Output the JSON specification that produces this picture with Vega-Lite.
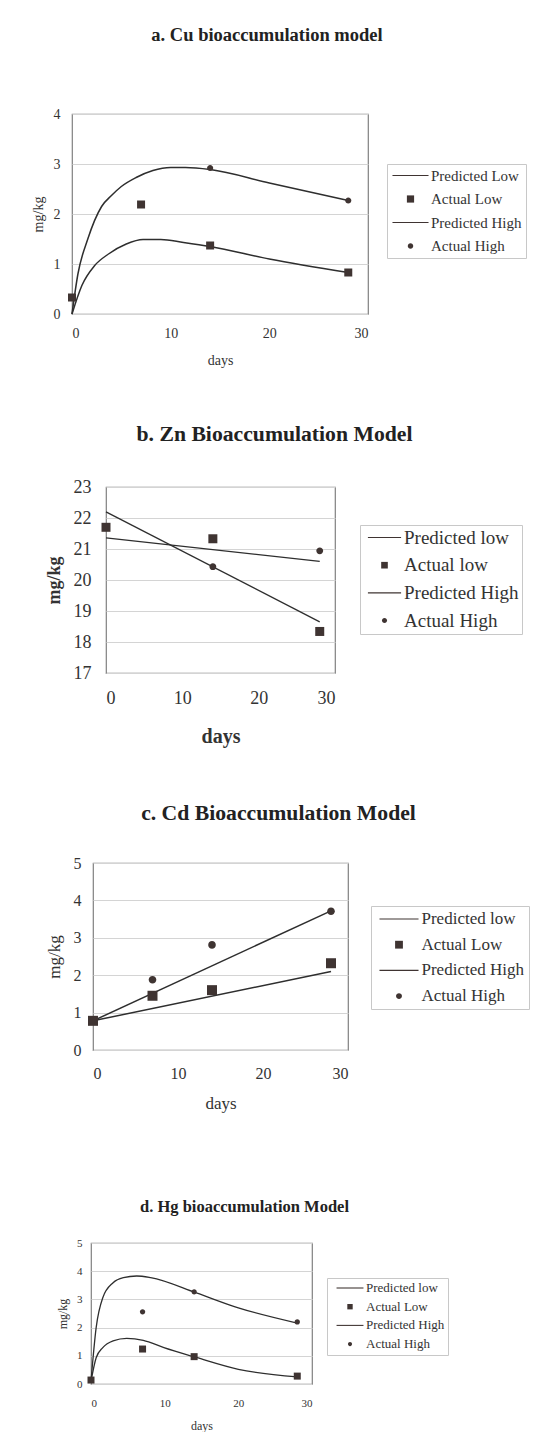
{
  "$schema": "https://vega.github.io/schema/vega-lite/v6.json",
  "background": "white",
  "padding": {"left": 0, "top": 24, "right": 0, "bottom": 0},
  "spacing": 0,
  "resolve": {"scale": {"shape": "independent"}, "legend": {"shape": "independent"}},
  "config": {
    "font": "Liberation Serif",
    "view": {"stroke": "#808080", "strokeWidth": 1.2},
    "axis": {"domain": false, "ticks": false, "tickSize": 0, "labelColor": "#333333", "titleColor": "#333333", "labelFont": "Liberation Serif", "titleFont": "Liberation Serif", "titleFontWeight": "normal", "gridColor": "#d4d4d4", "gridWidth": 1},
    "axisX": {"grid": false},
    "axisY": {"grid": true},
    "legend": {"labelFont": "Liberation Serif", "labelColor": "#333333", "strokeColor": "#c8c8c8", "fillColor": "white", "symbolStrokeWidth": 0, "symbolFillColor": "#3a3a3a"},
    "title": {"font": "Liberation Serif", "fontWeight": "bold", "color": "#222222", "anchor": "middle", "frame": "group"}
  },
  "datasets": {
    "cu_pred": [
      {"day": 0, "value": 0, "series": "Predicted High"},
      {"day": 0.6, "value": 0.8, "series": "Predicted High"},
      {"day": 1.6, "value": 1.5, "series": "Predicted High"},
      {"day": 3, "value": 2.15, "series": "Predicted High"},
      {"day": 4, "value": 2.37, "series": "Predicted High"},
      {"day": 5, "value": 2.55, "series": "Predicted High"},
      {"day": 6.5, "value": 2.73, "series": "Predicted High"},
      {"day": 8.2, "value": 2.87, "series": "Predicted High"},
      {"day": 10, "value": 2.93, "series": "Predicted High"},
      {"day": 11.5, "value": 2.93, "series": "Predicted High"},
      {"day": 14, "value": 2.89, "series": "Predicted High"},
      {"day": 20, "value": 2.62, "series": "Predicted High"},
      {"day": 28, "value": 2.27, "series": "Predicted High"},
      {"day": 0, "value": 0, "series": "Predicted Low"},
      {"day": 1, "value": 0.57, "series": "Predicted Low"},
      {"day": 2.3, "value": 0.97, "series": "Predicted Low"},
      {"day": 3.7, "value": 1.2, "series": "Predicted Low"},
      {"day": 5.5, "value": 1.4, "series": "Predicted Low"},
      {"day": 7.2, "value": 1.49, "series": "Predicted Low"},
      {"day": 9, "value": 1.49, "series": "Predicted Low"},
      {"day": 11.3, "value": 1.43, "series": "Predicted Low"},
      {"day": 14, "value": 1.35, "series": "Predicted Low"},
      {"day": 20, "value": 1.1, "series": "Predicted Low"},
      {"day": 28, "value": 0.83, "series": "Predicted Low"}
    ],
    "cu_pts": [
      {"day": 0, "value": 0.33, "series": "Actual Low"},
      {"day": 7, "value": 2.19, "series": "Actual Low"},
      {"day": 14, "value": 1.37, "series": "Actual Low"},
      {"day": 28, "value": 0.83, "series": "Actual Low"},
      {"day": 14, "value": 2.92, "series": "Actual High"},
      {"day": 28, "value": 2.27, "series": "Actual High"}
    ],
    "zn_pred": [
      {"day": 0, "value": 22.2, "series": "Predicted low"},
      {"day": 28, "value": 18.65, "series": "Predicted low"},
      {"day": 0, "value": 21.36, "series": "Predicted High"},
      {"day": 28, "value": 20.6, "series": "Predicted High"}
    ],
    "zn_pts": [
      {"day": 0, "value": 21.7, "series": "Actual low"},
      {"day": 14, "value": 21.33, "series": "Actual low"},
      {"day": 28, "value": 18.34, "series": "Actual low"},
      {"day": 14, "value": 20.43, "series": "Actual High"},
      {"day": 28, "value": 20.94, "series": "Actual High"}
    ],
    "cd_pred": [
      {"day": 0, "value": 0.78, "series": "Predicted low"},
      {"day": 28, "value": 2.1, "series": "Predicted low"},
      {"day": 0, "value": 0.78, "series": "Predicted High"},
      {"day": 28, "value": 3.72, "series": "Predicted High"}
    ],
    "cd_pts": [
      {"day": 0, "value": 0.78, "series": "Actual Low"},
      {"day": 7, "value": 1.45, "series": "Actual Low"},
      {"day": 14, "value": 1.6, "series": "Actual Low"},
      {"day": 28, "value": 2.32, "series": "Actual Low"},
      {"day": 0, "value": 0.8, "series": "Actual High"},
      {"day": 7, "value": 1.88, "series": "Actual High"},
      {"day": 14, "value": 2.81, "series": "Actual High"},
      {"day": 28, "value": 3.71, "series": "Actual High"}
    ],
    "hg_pred": [
      {"day": 0, "value": 0.1, "series": "Predicted High"},
      {"day": 0.7, "value": 2.0, "series": "Predicted High"},
      {"day": 1.6, "value": 3.06, "series": "Predicted High"},
      {"day": 3, "value": 3.59, "series": "Predicted High"},
      {"day": 4.4, "value": 3.77, "series": "Predicted High"},
      {"day": 6.2, "value": 3.83, "series": "Predicted High"},
      {"day": 8.1, "value": 3.77, "series": "Predicted High"},
      {"day": 14.3, "value": 3.23, "series": "Predicted High"},
      {"day": 20, "value": 2.7, "series": "Predicted High"},
      {"day": 28, "value": 2.16, "series": "Predicted High"},
      {"day": 0, "value": 0.1, "series": "Predicted low"},
      {"day": 0.7, "value": 0.93, "series": "Predicted low"},
      {"day": 1.6, "value": 1.29, "series": "Predicted low"},
      {"day": 3, "value": 1.53, "series": "Predicted low"},
      {"day": 4.85, "value": 1.62, "series": "Predicted low"},
      {"day": 7.1, "value": 1.55, "series": "Predicted low"},
      {"day": 9.9, "value": 1.29, "series": "Predicted low"},
      {"day": 14.3, "value": 0.94, "series": "Predicted low"},
      {"day": 20, "value": 0.52, "series": "Predicted low"},
      {"day": 28, "value": 0.25, "series": "Predicted low"}
    ],
    "hg_pts": [
      {"day": 0, "value": 0.14, "series": "Actual Low"},
      {"day": 7, "value": 1.24, "series": "Actual Low"},
      {"day": 14, "value": 0.97, "series": "Actual Low"},
      {"day": 28, "value": 0.28, "series": "Actual Low"},
      {"day": 7, "value": 2.56, "series": "Actual High"},
      {"day": 14, "value": 3.27, "series": "Actual High"},
      {"day": 28, "value": 2.2, "series": "Actual High"}
    ]
  },
  "vconcat": [
    {
      "spacing": 0,
      "resolve": {"scale": {"shape": "independent"}, "legend": {"shape": "independent"}},
      "hconcat": [
        {"width": 30, "height": 309, "data": {"values": []}, "mark": "point", "encoding": {}, "view": {"stroke": null}},
        {
          "width": 296, "height": 200,
          "title": {"text": "a. Cu bioaccumulation model", "fontSize": 18.5, "offset": 63, "dx": 47},
          "encoding": {
            "x": {"field": "day", "type": "quantitative", "scale": {"domain": [0, 30], "nice": false},
                  "axis": {"title": "days", "values": [0, 10, 20, 30], "labelFontSize": 14, "titleFontSize": 14, "labelPadding": 12, "titlePadding": 13}},
            "y": {"field": "value", "type": "quantitative", "scale": {"domain": [0, 4], "nice": false},
                  "axis": {"title": "mg/kg", "values": [0, 1, 2, 3, 4], "labelFontSize": 14, "titleFontSize": 14, "labelPadding": 12, "titlePadding": 8, "minExtent": 19, "maxExtent": 19}}
          },
          "layer": [
            {"data": {"name": "cu_pred"}, "mark": {"type": "line", "interpolate": "monotone", "color": "#2e2e2e", "strokeWidth": 1.5},
             "encoding": {"detail": {"field": "series"}}},
            {"data": {"name": "cu_pts"}, "mark": {"type": "point", "filled": true, "opacity": 1, "color": "#3f3432", "size": 64},
             "encoding": {"shape": {"field": "series", "type": "nominal",
               "scale": {"domain": ["Predicted Low", "Actual Low", "Predicted High", "Actual High"], "range": ["M-5,-0.16H5V0.16H-5Z", "square", "M-5,-0.16H5V0.16H-5Z", "M0.76,0A0.76,0.76,0,1,1,-0.76,0A0.76,0.76,0,1,1,0.76,0Z"]},
               "legend": {"orient": "none", "legendX": 315, "legendY": 50, "title": null, "labelFontSize": 15, "padding": 4, "rowPadding": 7.5, "symbolOffset": 12, "labelOffset": 13, "symbolSize": 52,
                 "encode": {"symbols": {"update": {"size": {"value": 52}, "fill": {"value": "#3a3a3a"}, "opacity": {"value": 1}}}}}}}}
          ]
        }
      ]
    },
    {
      "spacing": 0,
      "resolve": {"scale": {"shape": "independent"}, "legend": {"shape": "independent"}},
      "hconcat": [
        {"width": 44, "height": 315, "data": {"values": []}, "mark": "point", "encoding": {}, "view": {"stroke": null}},
        {
          "width": 229, "height": 186,
          "title": {"text": "b. Zn Bioaccumulation Model", "fontSize": 21.7, "offset": 32, "dx": 54},
          "encoding": {
            "x": {"field": "day", "type": "quantitative", "scale": {"domain": [0, 30], "nice": false},
                  "axis": {"title": "days", "values": [0, 10, 20, 30], "labelFontSize": 18, "titleFontSize": 20, "titleFontWeight": "bold", "labelPadding": 16, "titlePadding": 19}},
            "y": {"field": "value", "type": "quantitative", "scale": {"domain": [17, 23], "nice": false},
                  "axis": {"title": "mg/kg", "values": [17, 18, 19, 20, 21, 22, 23], "labelFontSize": 18, "titleFontSize": 18, "titleFontWeight": "bold", "labelPadding": 15, "titlePadding": 10, "minExtent": 33, "maxExtent": 33}}
          },
          "layer": [
            {"data": {"name": "zn_pred"}, "mark": {"type": "line", "color": "#2e2e2e", "strokeWidth": 1.3},
             "encoding": {"detail": {"field": "series"}}},
            {"data": {"name": "zn_pts"}, "mark": {"type": "point", "filled": true, "opacity": 1, "color": "#3f3432", "size": 81},
             "encoding": {"shape": {"field": "series", "type": "nominal",
               "scale": {"domain": ["Predicted low", "Actual low", "Predicted High", "Actual High"], "range": ["M-5,-0.18H5V0.18H-5Z", "square", "M-5,-0.18H5V0.18H-5Z", "M0.76,0A0.76,0.76,0,1,1,-0.76,0A0.76,0.76,0,1,1,0.76,0Z"]},
               "legend": {"orient": "none", "legendX": 254, "legendY": 38, "title": null, "labelFontSize": 19, "padding": 3, "rowPadding": 7.7, "symbolOffset": 12, "labelOffset": 10, "symbolSize": 44,
                 "encode": {"symbols": {"update": {"size": {"value": 44}, "fill": {"value": "#3a3a3a"}, "opacity": {"value": 1}}}}}}}}
          ]
        }
      ]
    },
    {
      "spacing": 0,
      "resolve": {"scale": {"shape": "independent"}, "legend": {"shape": "independent"}},
      "hconcat": [
        {"width": 44, "height": 334, "data": {"values": []}, "mark": "point", "encoding": {}, "view": {"stroke": null}},
        {
          "width": 255, "height": 187,
          "title": {"text": "c. Cd Bioaccumulation Model", "fontSize": 21.7, "offset": 30, "dx": 58},
          "encoding": {
            "x": {"field": "day", "type": "quantitative", "scale": {"domain": [0, 30], "nice": false},
                  "axis": {"title": "days", "values": [0, 10, 20, 30], "labelFontSize": 16, "titleFontSize": 17, "labelPadding": 15, "titlePadding": 14}},
            "y": {"field": "value", "type": "quantitative", "scale": {"domain": [0, 5], "nice": false},
                  "axis": {"title": "mg/kg", "values": [0, 1, 2, 3, 4, 5], "labelFontSize": 16, "titleFontSize": 17, "labelPadding": 12, "titlePadding": 10, "minExtent": 20, "maxExtent": 20}}
          },
          "layer": [
            {"data": {"name": "cd_pred"}, "mark": {"type": "line", "color": "#2e2e2e", "strokeWidth": 1.5},
             "encoding": {"detail": {"field": "series"}}},
            {"data": {"name": "cd_pts"}, "mark": {"type": "point", "filled": true, "opacity": 1, "color": "#3f3432", "size": 100},
             "encoding": {"shape": {"field": "series", "type": "nominal",
               "scale": {"domain": ["Predicted low", "Actual Low", "Predicted High", "Actual High"], "range": ["M-5,-0.15H5V0.15H-5Z", "square", "M-5,-0.15H5V0.15H-5Z", "M0.76,0A0.76,0.76,0,1,1,-0.76,0A0.76,0.76,0,1,1,0.76,0Z"]},
               "legend": {"orient": "none", "legendX": 278, "legendY": 43, "title": null, "labelFontSize": 17, "padding": 4.5, "rowPadding": 7.7, "symbolOffset": 15, "labelOffset": 14, "symbolSize": 61,
                 "encode": {"symbols": {"update": {"size": {"value": 61}, "fill": {"value": "#3a3a3a"}, "opacity": {"value": 1}}}}}}}}
          ]
        }
      ]
    },
    {
      "spacing": 0,
      "resolve": {"scale": {"shape": "independent"}, "legend": {"shape": "independent"}},
      "hconcat": [
        {"width": 55, "height": 1, "data": {"values": []}, "mark": "point", "encoding": {}, "view": {"stroke": null}},
        {
          "width": 221, "height": 141,
          "title": {"text": "d. Hg bioaccumulation Model", "fontSize": 16.5, "offset": 22, "dx": 43},
          "encoding": {
            "x": {"field": "day", "type": "quantitative", "scale": {"domain": [0, 30], "nice": false},
                  "axis": {"title": "days", "values": [0, 10, 20, 30], "labelFontSize": 11, "titleFontSize": 12, "labelPadding": 13, "titlePadding": 12}},
            "y": {"field": "value", "type": "quantitative", "scale": {"domain": [0, 5], "nice": false},
                  "axis": {"title": "mg/kg", "values": [0, 1, 2, 3, 4, 5], "labelFontSize": 11, "titleFontSize": 12, "labelPadding": 9, "titlePadding": 7, "minExtent": 15, "maxExtent": 15}}
          },
          "layer": [
            {"data": {"name": "hg_pred"}, "mark": {"type": "line", "interpolate": "monotone", "color": "#2e2e2e", "strokeWidth": 1.3},
             "encoding": {"detail": {"field": "series"}}},
            {"data": {"name": "hg_pts"}, "mark": {"type": "point", "filled": true, "opacity": 1, "color": "#3f3432", "size": 49},
             "encoding": {"shape": {"field": "series", "type": "nominal",
               "scale": {"domain": ["Predicted low", "Actual Low", "Predicted High", "Actual High"], "range": ["M-5,-0.2H5V0.2H-5Z", "square", "M-5,-0.2H5V0.2H-5Z", "M0.76,0A0.76,0.76,0,1,1,-0.76,0A0.76,0.76,0,1,1,0.76,0Z"]},
               "legend": {"orient": "none", "legendX": 236, "legendY": 35, "title": null, "labelFontSize": 13, "padding": 3.5, "rowPadding": 4.7, "symbolOffset": 13, "labelOffset": 9.5, "symbolSize": 29,
                 "encode": {"symbols": {"update": {"size": {"value": 29}, "fill": {"value": "#3a3a3a"}, "opacity": {"value": 1}}}}}}}}
          ]
        }
      ]
    }
  ]
}
